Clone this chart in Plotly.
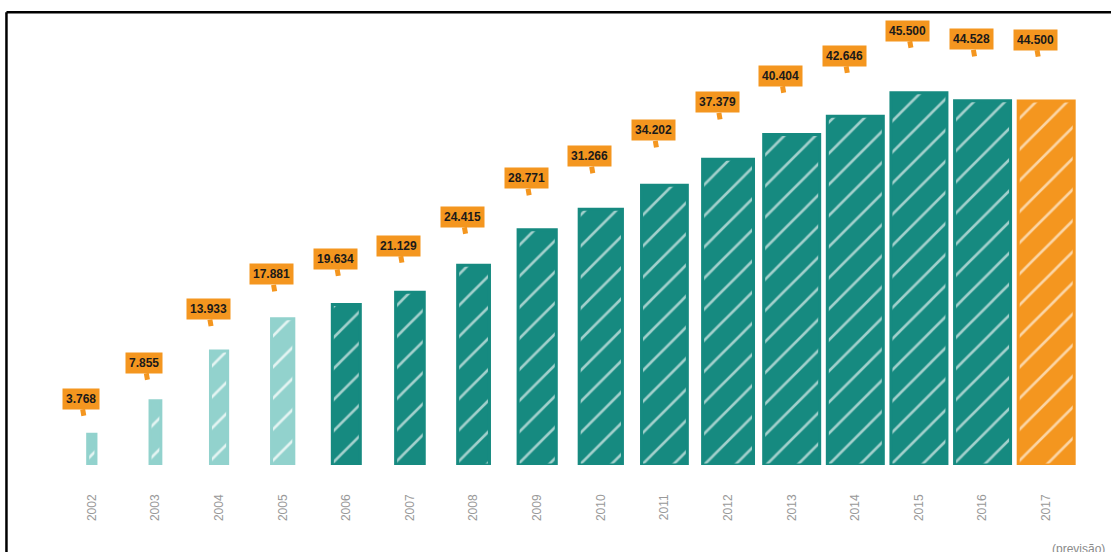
import plotly.graph_objects as go

# ---- data ----
years = ["2002", "2003", "2004", "2005", "2006", "2007", "2008", "2009",
         "2010", "2011", "2012", "2013", "2014", "2015", "2016", "2017"]
values = [3.768, 7.855, 13.933, 17.881, 19.634, 21.129, 24.415, 28.771,
          31.266, 34.202, 37.379, 40.404, 42.646, 45.500, 44.528, 44.500]
labels = ["3.768", "7.855", "13.933", "17.881", "19.634", "21.129", "24.415", "28.771",
          "31.266", "34.202", "37.379", "40.404", "42.646", "45.500", "44.528", "44.500"]
forecast_note = "(previsão)"

# ---- styles ----
LIGHT = "#92d2cd"
TEAL = "#168a80"
ORANGE = "#f4961f"
bar_widths = [0.13, 0.17, 0.27, 0.35, 0.44, 0.45, 0.5, 0.6,
              0.68, 0.72, 0.8, 0.88, 0.88, 0.88, 0.88, 0.88]
# colour groups: (start index, end index, colour, pattern opacity)
groups = [(0, 4, LIGHT, 0.75), (4, 15, TEAL, 0.6), (15, 16, ORANGE, 0.6)]
FONT = "Liberation Sans, Arial, sans-serif"

fig = go.Figure()
for a, b, col, op in groups:
    fig.add_trace(go.Bar(
        x=years[a:b], y=values[a:b], width=bar_widths[a:b],
        marker=dict(
            color=col,
            line=dict(color=col, width=3),
            pattern=dict(shape="/", fillmode="overlay", fgcolor="#ffffff",
                         fgopacity=op, size=22, solidity=0.12),
        ),
        hoverinfo="x+y",
    ))

# category index positions for annotations (category axis)
for i, (v, lab) in enumerate(zip(values, labels)):
    fig.add_annotation(
        x=i, y=v * 1.078, yshift=16, xshift=-8,
        text=f"<b>{lab}</b>", showarrow=True, arrowhead=0, arrowwidth=5,
        arrowcolor=ORANGE, ax=-3, ay=-17, standoff=0,
        bgcolor=ORANGE, borderpad=3,
        font=dict(family=FONT, size=12, color="#1a1a1a"),
    )

fig.add_annotation(
    x=len(years) - 1, y=0, yshift=-84, xshift=32,
    text=forecast_note, showarrow=False,
    font=dict(family=FONT, size=12, color="#8a8a8a"),
)

# frame (left and top border)
fig.add_shape(type="line", xref="paper", yref="paper", x0=-0.0526, x1=1.05, y0=1.0175, y1=1.0175,
              line=dict(color="black", width=2.5))
fig.add_shape(type="line", xref="paper", yref="paper", x0=-0.0526, x1=-0.0526, y0=1.0175, y1=-0.4,
              line=dict(color="black", width=2.5))

fig.update_layout(
    width=1111, height=552,
    margin=dict(l=60, r=33, t=20, b=87),
    paper_bgcolor="white", plot_bgcolor="white",
    showlegend=False, barmode="overlay",
    xaxis=dict(
        type="category", categoryorder="array", categoryarray=years,
        range=[-0.5, len(years) - 0.5],
        showgrid=False, zeroline=False, showline=False,
        tickangle=-90, ticks="", ticklabelstandoff=26,
        tickfont=dict(family=FONT, size=12, color="#999999"),
    ),
    yaxis=dict(range=[0, 54.4], visible=False),
)

fig.write_html("out.html")
